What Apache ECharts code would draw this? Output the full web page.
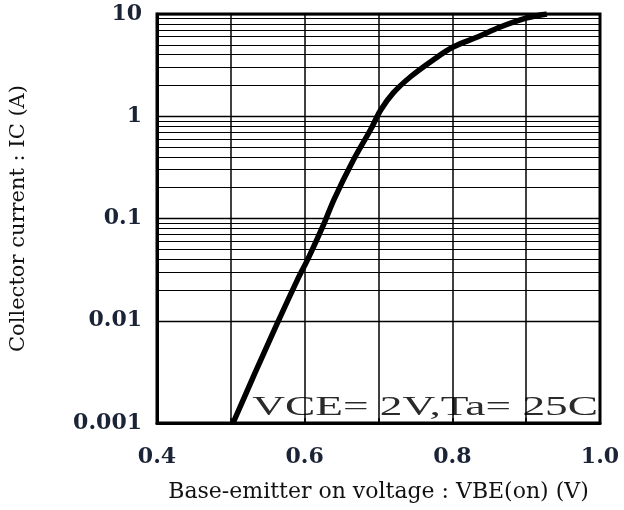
<!DOCTYPE html>
<html>
<head>
<meta charset="utf-8">
<script src="https://cdn.jsdelivr.net/npm/echarts@6/dist/echarts.min.js"></script>
<style>
  html, body { margin: 0; padding: 0; background: #fff; }
  #chart { width: 624px; height: 510px; }
</style>
</head>
<body>
<div id="chart"></div>
<script>
// Base-emitter on voltage VBE(on) (V)
const vbe = [0.503, 0.532, 0.561, 0.59, 0.605, 0.625, 0.64, 0.666, 0.689, 0.703, 0.72, 0.743, 0.774, 0.801, 0.834, 0.865, 0.901, 0.928];
// Collector current IC (A)
const ic = [0.001, 0.003, 0.0088, 0.025, 0.041, 0.085, 0.155, 0.373, 0.734, 1.15, 1.69, 2.42, 3.55, 4.75, 5.96, 7.46, 9.15, 10];

const xTickLabels = [0.4, 0.6, 0.8, 1.0];
const yTickLabels = ['0.001', '0.01', '0.1', '1', '10'];
const yDecades = [0.001, 0.01, 0.1, 1];
const yMinorMultipliers = [2, 3, 4, 5, 6, 7, 8, 9];
const annotation = 'VCE= 2V,Ta= 25C';

const minorLines = [];
yDecades.forEach(d => yMinorMultipliers.forEach(m => minorLines.push({ yAxis: +(d * m).toPrecision(3) })));

const curve = vbe.map((v, i) => [v, ic[i]]);

const chart = echarts.init(document.getElementById('chart'), null, { renderer: 'canvas' });
const tickFont = { fontFamily: '"DejaVu Serif"', fontWeight: 'bold', fontSize: 22, color: '#1b2336' };

chart.setOption({
  animation: false,
  backgroundColor: '#fff',
  grid: { left: 156, right: 24, top: 14, bottom: 87, show: true, borderColor: '#000', borderWidth: 3, backgroundColor: 'transparent' },
  xAxis: {
    type: 'value', min: 0.4, max: 1.0, interval: 0.1,
    name: 'Base-emitter on voltage : VBE(on) (V)',
    nameLocation: 'middle', nameGap: 58,
    nameTextStyle: { fontFamily: '"DejaVu Serif"', fontSize: 22, color: '#111' },
    axisLine: { show: true, lineStyle: { color: '#000', width: 3 } },
    axisTick: { show: true, inside: true, length: 5, lineStyle: { color: '#000', width: 1.5 } },
    splitLine: { show: true, lineStyle: { color: '#000', width: 1.5 } },
    axisLabel: Object.assign({
      margin: 23,
      formatter: v => xTickLabels.some(t => Math.abs(t - v) < 1e-6) ? v.toFixed(1) : ''
    }, tickFont)
  },
  yAxis: {
    type: 'log', logBase: 10, min: 0.001, max: 10,
    name: 'Collector current : IC (A)',
    nameLocation: 'middle', nameGap: 128, nameRotate: 90,
    nameTextStyle: { fontFamily: '"DejaVu Serif"', fontSize: 21, color: '#111' },
    axisLine: { show: true, lineStyle: { color: '#000', width: 3 } },
    axisTick: { show: false },
    splitLine: { show: true, lineStyle: { color: '#000', width: 1.3 } },
    axisLabel: Object.assign({
      margin: 15,
      formatter: v => yTickLabels[Math.round(Math.log10(v)) + 3]
    }, tickFont)
  },
  series: [{
    type: 'line',
    data: curve,
    showSymbol: false,
    smooth: 0.35,
    clip: true,
    lineStyle: { color: '#000', width: 5.5 },
    z: 3,
    markLine: {
      silent: true, symbol: 'none', animation: false,
      label: { show: false },
      lineStyle: { color: '#000', width: 1.1, type: 'solid' },
      emphasis: { disabled: true },
      data: minorLines
    }
  }],
  graphic: [{
    type: 'group', right: 26, top: 394, z: 100,
    children: [
      { type: 'rect', shape: { x: 0, y: 0, width: 346, height: 24 }, style: { fill: '#fff' } },
      { type: 'text', x: 2, y: 12, scaleX: 1.68,
        style: { text: annotation, font: '27px "Liberation Serif"', fill: '#2a2a2a', verticalAlign: 'middle', align: 'left' } }
    ]
  }]
});
</script>
</body>
</html>
